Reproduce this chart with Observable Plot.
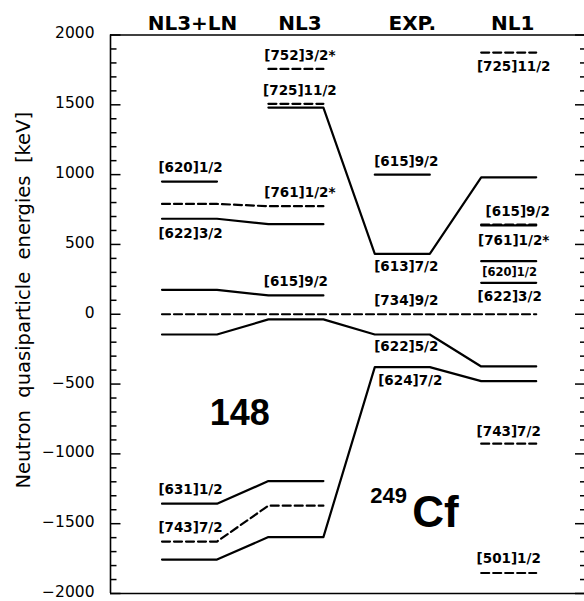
<!DOCTYPE html>
<html>
<head>
<meta charset="utf-8">
<script src="https://cdn.jsdelivr.net/npm/d3@7"></script>
<script src="https://cdn.jsdelivr.net/npm/@observablehq/plot@0.6"></script>
<style>
  body { margin: 0; background: #fff; }
  svg text { white-space: pre; }
</style>
</head>
<body>
<div id="chart"></div>
<script>
// Neutron one-quasiparticle levels of 249Cf: two RMF calculations with and
// without Lipkin-Nogami pairing, experiment, and the NL1 parameter set.
const columns = ["NL3+LN", "NL3", "EXP.", "NL1"];

// Level energies in keV, per column
const nl3lnOrbitals = ["[620]1/2", "[761]1/2*", "[622]3/2", "[615]9/2", "[734]9/2", "[622]5/2", "[631]1/2", "[743]7/2", "[624]7/2"];
const nl3lnEnergies = [950, 790, 684, 175, 0, -145, -1357, -1628, -1757];

const nl3Orbitals = ["[752]3/2*", "[725]11/2", "[613]7/2", "[761]1/2*", "[622]3/2", "[615]9/2", "[734]9/2", "[622]5/2", "[631]1/2", "[743]7/2", "[624]7/2"];
const nl3Energies = [1757, 1507, 1480, 774, 645, 135, 0, -37, -1195, -1371, -1596];

const expOrbitals = ["[615]9/2", "[613]7/2", "[734]9/2", "[622]5/2", "[624]7/2"];
const expEnergies = [1000, 433, 0, -145, -379];

const nl1Orbitals = ["[725]11/2", "[613]7/2", "[615]9/2", "[761]1/2*", "[620]1/2", "[622]3/2", "[734]9/2", "[622]5/2", "[624]7/2", "[743]7/2", "[501]1/2"];
const nl1Energies = [1874, 981, 636, 642, 380, 225, 0, -374, -479, -927, -1853];

// Orbitals followed from one column to the next (first and last column of the chain)
const correlatedOrbitals = ["[761]1/2*", "[622]3/2", "[615]9/2", "[631]1/2", "[743]7/2", "[734]9/2", "[622]5/2", "[624]7/2", "[613]7/2"];
const correlatedFrom = ["NL3+LN", "NL3+LN", "NL3+LN", "NL3+LN", "NL3+LN", "NL3+LN", "NL3+LN", "NL3+LN", "NL3"];
const correlatedTo = ["NL3", "NL3", "NL3", "NL3", "NL3", "NL1", "NL1", "NL1", "NL1"];

// Which levels carry a Nilsson label
const labelColumns = ["NL3+LN", "NL3+LN", "NL3+LN", "NL3+LN",
  "NL3", "NL3", "NL3", "NL3",
  "EXP.", "EXP.", "EXP.", "EXP.", "EXP.",
  "NL1", "NL1", "NL1", "NL1", "NL1", "NL1", "NL1"];
const labelOrbitals = ["[620]1/2", "[622]3/2", "[631]1/2", "[743]7/2",
  "[752]3/2*", "[725]11/2", "[761]1/2*", "[615]9/2",
  "[615]9/2", "[613]7/2", "[734]9/2", "[622]5/2", "[624]7/2",
  "[725]11/2", "[615]9/2", "[761]1/2*", "[620]1/2", "[622]3/2", "[743]7/2", "[501]1/2"];

const yMajorTicks = d3.range(-2000, 2001, 500);
const yMinorTicks = d3.range(-2000, 2001, 100);

// ---- layout ----
const W = 584, H = 601, ML = 110, MR = 0, MT = 34.5, MB = 8;
const COL0 = 189, COL_STEP = 106.4;           // pixel centre of first column, spacing
const HALF = 27.5 / COL_STEP;                  // half width of a level line
const xDomain = [(ML - COL0) / COL_STEP, (W - MR - COL0) / COL_STEP];
const frameW = W - ML - MR;

// label offsets in pixels: [dy, dx] (negative dy = above the level)
const labelOffsets = [[-14, 1], [15, 1], [-14, 1], [-14, 1],
  [-13, 4], [-13, 4], [-14, 4], [-14, 0],
  [-13, 4], [13, 4], [-14, 4], [12, 4], [14, 8],
  [14, 5], [-14, 9], [16, 5], [11, 1], [14, 1], [-12, 0], [-14, 0]];
const headerShift = [3, 4, 10, 4];

// ---- build level table ----
const levels = [];
[[nl3lnOrbitals, nl3lnEnergies], [nl3Orbitals, nl3Energies], [expOrbitals, expEnergies], [nl1Orbitals, nl1Energies]]
  .forEach(([orbs, ens], col) => orbs.forEach((orbital, k) => {
    // odd oscillator shell N -> negative parity, drawn dashed
    levels.push({col, orbital, energy: ens[k], dashed: Number(orbital[1]) % 2 === 1});
  }));

function chainKey(l) {
  const j = correlatedOrbitals.indexOf(l.orbital);
  if (j >= 0 && l.col >= columns.indexOf(correlatedFrom[j]) && l.col <= columns.indexOf(correlatedTo[j])) return l.orbital;
  return l.orbital + "@" + l.col;
}

const points = [];
for (const l of levels) {
  const key = chainKey(l);
  points.push({key, x: l.col - HALF, y: l.energy, dashed: l.dashed});
  points.push({key, x: l.col + HALF, y: l.energy, dashed: l.dashed});
}

const labels = labelOrbitals.map((orbital, i) => {
  const col = columns.indexOf(labelColumns[i]);
  const lev = levels.find(l => l.col === col && l.orbital === orbital);
  return {col, orbital, energy: lev.energy, dy: labelOffsets[i][0], dx: labelOffsets[i][1],
          small: col === 3 && orbital === "[620]1/2"};
});

const fmt = d => d < 0 ? "\u2212" + Math.abs(d) : String(d);

const chart = Plot.plot({
  width: W, height: H,
  marginLeft: ML, marginRight: MR, marginTop: MT, marginBottom: MB,
  x: {domain: xDomain, axis: null},
  y: {domain: [-2000, 2000], axis: null},
  style: {fontFamily: "DejaVu Sans", color: "black", background: "white", overflow: "visible"},
  marks: [
    // frame: left, top, bottom
    Plot.ruleX([xDomain[0]], {stroke: "black", strokeWidth: 1.6}),
    Plot.ruleY([-2000, 2000], {stroke: "black", strokeWidth: 1.6}),
    // inward ticks, left side
    Plot.tickY(yMinorTicks.filter(d => d % 500 !== 0), {y: d => d, insetRight: frameW - 6.5, strokeWidth: 1.5}),
    Plot.tickY(yMajorTicks, {y: d => d, insetRight: frameW - 10.5, strokeWidth: 1.5}),
    // inward ticks, right side
    Plot.tickY(yMinorTicks.filter(d => d % 500 !== 0), {y: d => d, insetLeft: frameW - 4, strokeWidth: 1.5}),
    Plot.tickY(yMajorTicks, {y: d => d, insetLeft: frameW - 9, strokeWidth: 1.5}),
    Plot.axisY(yMajorTicks, {anchor: "left", tickSize: 0, tickPadding: 16, tickFormat: fmt, fontSize: 15.5, dy: -1.5, label: null}),
    Plot.text(["Neutron  quasiparticle  energies  [keV]"], {
      frameAnchor: "left", textAnchor: "middle", rotate: -90, dx: -87, dy: -14, fontSize: 19.5
    }),
    // column headers
    ...columns.map((c, i) => Plot.text([c], {
      x: () => i, y: () => 2000, dy: -11.5, dx: headerShift[i],
      fontSize: 20, fontWeight: "bold"
    })),
    // levels and the lines correlating them between columns
    Plot.line(points.filter(p => !p.dashed), {x: "x", y: "y", z: "key", stroke: "black", strokeWidth: 2.2}),
    Plot.line(points.filter(p => p.dashed), {x: "x", y: "y", z: "key", stroke: "black", strokeWidth: 2.2, strokeDasharray: "8,4"}),
    // Nilsson labels
    ...labels.map(d => Plot.text([d], {
      x: "col", y: "energy", text: "orbital", dx: d.dx, dy: d.dy,
      fontSize: d.small ? 11.5 : 13.5, fontWeight: "bold"
    })),
    // nucleus
    Plot.text(["148"], {x: () => 0.5, y: () => -710, dx: -3, fontSize: 36, fontWeight: "bold",
      fontFamily: "Liberation Sans", letterSpacing: "-1px"}),
    Plot.text(["249"], {x: () => 2, y: () => -1302, dx: -32, textAnchor: "start", fontSize: 22, fontWeight: "bold",
      fontFamily: "Liberation Sans"}),
    Plot.text(["Cf"], {x: () => 2, y: () => -1422, dx: 10, textAnchor: "start", fontSize: 44, fontWeight: "bold",
      fontFamily: "Liberation Sans"})
  ]
});

document.getElementById("chart").appendChild(chart);
</script>
</body>
</html>
